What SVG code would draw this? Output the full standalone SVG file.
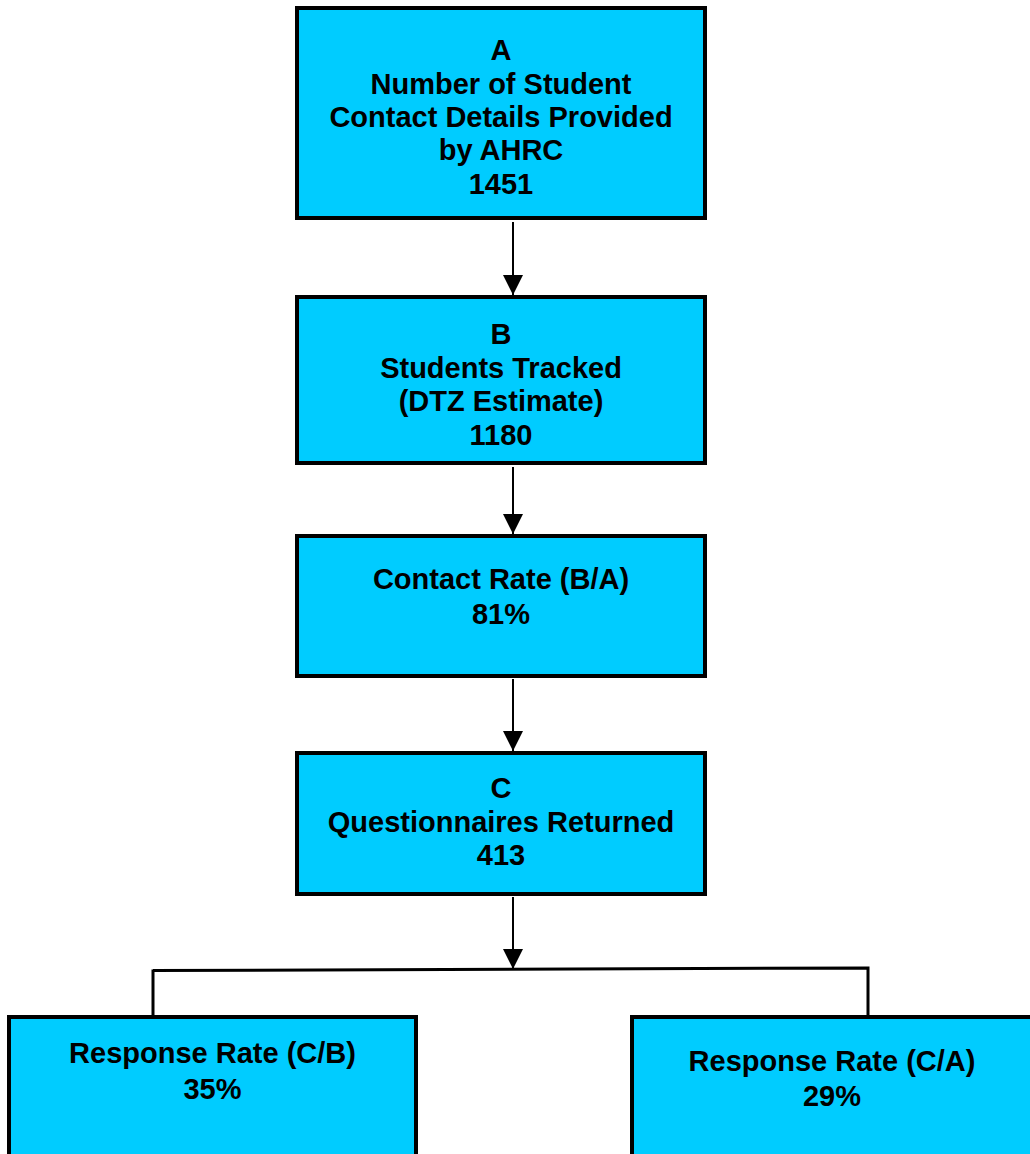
<svg xmlns="http://www.w3.org/2000/svg" width="1030" height="1154" viewBox="0 0 1030 1154">
  <style>
    .box { fill: #00ccff; stroke: #000; stroke-width: 4; }
    .lbl { font-family: "Liberation Sans", Arial, sans-serif; font-weight: bold; font-size: 29px; fill: #000; text-anchor: middle; }
    .arrow { stroke: #000; stroke-width: 2; fill: none; }
    .branch { stroke: #000; stroke-width: 3; fill: none; }
  </style>
  <defs>
    <marker id="head" markerUnits="userSpaceOnUse" markerWidth="20" markerHeight="20" refX="20" refY="10" orient="auto">
      <path d="M0,0 L20,10 L0,20 Z" fill="#000"/>
    </marker>
  </defs>
  <rect width="1030" height="1154" fill="#fff"/>

  <g id="connectors">
    <line class="arrow" x1="513" y1="222" x2="513" y2="295" marker-end="url(#head)"/>
    <line class="arrow" x1="513" y1="467" x2="513" y2="534" marker-end="url(#head)"/>
    <line class="arrow" x1="513" y1="679" x2="513" y2="751" marker-end="url(#head)"/>
    <line class="arrow" x1="513" y1="897" x2="513" y2="969" marker-end="url(#head)"/>
    <polyline class="branch" points="153,1015 153,969.5 153,970.5 868,968 868,1015"/>
  </g>

  <g id="node-a">
    <rect class="box" x="297" y="8" width="408" height="210"/>
    <text class="lbl" x="501" y="60">A</text>
    <text class="lbl" x="501" y="93.5">Number of Student</text>
    <text class="lbl" x="501" y="127">Contact Details Provided</text>
    <text class="lbl" x="501" y="160">by AHRC</text>
    <text class="lbl" x="501" y="194">1451</text>
  </g>

  <g id="node-b">
    <rect class="box" x="297" y="297" width="408" height="166"/>
    <text class="lbl" x="501" y="344">B</text>
    <text class="lbl" x="501" y="377.5">Students Tracked</text>
    <text class="lbl" x="501" y="411">(DTZ Estimate)</text>
    <text class="lbl" x="501" y="444.5">1180</text>
  </g>

  <g id="node-contact-rate">
    <rect class="box" x="297" y="536" width="408" height="140"/>
    <text class="lbl" x="501" y="589">Contact Rate (B/A)</text>
    <text class="lbl" x="501" y="624">81%</text>
  </g>

  <g id="node-c">
    <rect class="box" x="297" y="753" width="408" height="141"/>
    <text class="lbl" x="501" y="798">C</text>
    <text class="lbl" x="501" y="831.5">Questionnaires Returned</text>
    <text class="lbl" x="501" y="865">413</text>
  </g>

  <g id="node-response-cb">
    <rect class="box" x="9" y="1017" width="407" height="200"/>
    <text class="lbl" x="212.5" y="1063">Response Rate (C/B)</text>
    <text class="lbl" x="212.5" y="1098.5">35%</text>
  </g>

  <g id="node-response-ca">
    <rect class="box" x="632" y="1017" width="404" height="200"/>
    <text class="lbl" x="832" y="1071">Response Rate (C/A)</text>
    <text class="lbl" x="832" y="1106">29%</text>
  </g>
</svg>
